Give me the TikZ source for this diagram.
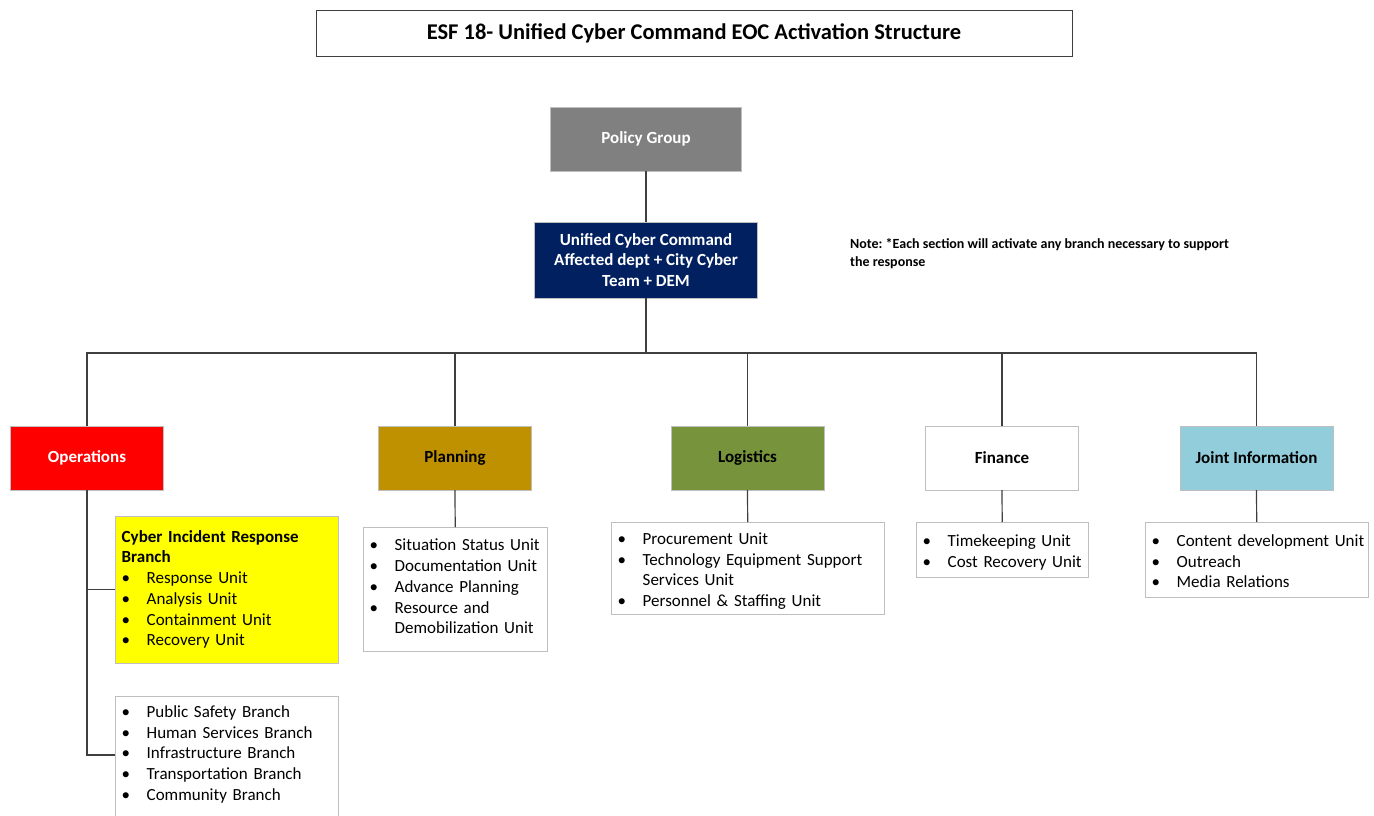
\documentclass[tikz,border=0pt]{standalone}
\usepackage{fontspec}
\setmainfont{Carlito}
\frenchspacing
\definecolor{opsred}{HTML}{FF0000}
\definecolor{planbrown}{HTML}{BF9000}
\definecolor{loggreen}{HTML}{77933C}
\definecolor{jointblue}{HTML}{92CDDC}
\definecolor{policygray}{HTML}{808080}
\definecolor{uccnavy}{HTML}{002060}
\definecolor{edgegray}{HTML}{BFBFBF}
\definecolor{linegray}{HTML}{3F3F3F}
\definecolor{cirbyellow}{HTML}{FFFF00}
% one bullet line, and a bullet line that runs on to a second line
\newcommand\itm[1]{\par\noindent\makebox[25pt][l]{\textbullet}\mbox{\strut#1}}
\newcommand\itmm[2]{\itm{#1}\par\noindent\hspace*{25pt}\mbox{\strut#2}}
\begin{document}
\begin{tikzpicture}[x=1pt,y=-1pt,
    sectbox/.style={draw=edgegray,minimum width=153pt,minimum height=64pt,inner sep=0pt,
      font=\fontsize{17}{20.7}\selectfont\bfseries},
    unitbox/.style={draw=edgegray,anchor=north west,align=left,inner xsep=6.5pt,inner ysep=3pt,
      font=\fontsize{17}{20.7}\selectfont},
    link/.style={draw=linegray,line width=1.2pt}]
  \useasboundingbox (0,0) rectangle (1374,815);

  % title and top of the command
  \node[draw=linegray,minimum width=756pt,minimum height=46pt,
    font=\fontsize{22.5}{27}\selectfont\bfseries] (title) at (694,33)
    {ESF 18- Unified Cyber Command EOC Activation Structure};
  \node[sectbox,fill=policygray,text=white,minimum width=191pt] (policy) at (646,139) {Policy Group};
  \node[sectbox,fill=uccnavy,text=white,minimum width=223pt,minimum height=76pt,align=center]
    (ucc) at (646,260) {Unified Cyber Command\\Affected dept + City Cyber\\Team + DEM};
  \node[anchor=north west,inner sep=0pt,align=left,font=\fontsize{14}{18}\selectfont\bfseries]
    (note) at (850,238) {Note: *Each section will activate any branch necessary to support\\the response};

  % sections
  \node[sectbox,fill=opsred,text=white] (ops) at (87,458) {Operations};
  \node[sectbox,fill=planbrown] (plan) at (455,458) {Planning};
  \node[sectbox,fill=loggreen] (log) at (747.5,458) {Logistics};
  \node[sectbox,fill=white] (fin) at (1002,458) {Finance};
  \node[sectbox,fill=jointblue] (joint) at (1256.5,458) {Joint Information};

  % units under each section
  \node[unitbox,fill=cirbyellow,text width=210pt,inner ysep=11.5pt] (cirb) at (115,516)
    {\noindent\textbf{\strut Cyber Incident Response}\par\noindent\textbf{\strut Branch}
     \itm{Response Unit}\itm{Analysis Unit}\itm{Containment Unit}\itm{Recovery Unit}};
  \node[unitbox,text width=210pt,inner ysep=0.5pt] (ofb) at (115,696)
    {\itm{Public Safety Branch}\itm{Human Services Branch}\itm{Infrastructure Branch}
     \itm{Transportation Branch}\itm{Community Branch}\par\strut\par\strut};
  \node[unitbox,text width=171pt] (plansub) at (363,527)
    {\itm{Situation Status Unit}\itm{Documentation Unit}\itm{Advance Planning}
     \itmm{Resource and}{Demobilization Unit}\rule[-14.7pt]{0pt}{14.7pt}};
  \node[unitbox,text width=260pt,inner ysep=1.5pt] (logsub) at (611,522)
    {\itm{Procurement Unit}\itmm{Technology Equipment Support}{Services Unit}
     \itm{Personnel \& Staffing Unit}};
  \node[unitbox,text width=159pt,inner ysep=3.5pt] (finsub) at (916,522)
    {\itm{Timekeeping Unit}\itm{Cost Recovery Unit}};
  \node[unitbox,text width=210pt,inner ysep=3.5pt] (jointsub) at (1145,522)
    {\itm{Content development Unit}\itm{Outreach}\itm{Media Relations}};

  % connectors
  \coordinate (bus) at (646,353);
  \coordinate (ofbin) at (115,755);
  \draw[link] (policy.south) -- (ucc.north);
  \draw[link] (ucc.south) -- (bus);
  \foreach \s in {ops,plan,log,fin,joint} {\draw[link] (bus) -| (\s.north);}
  \draw[link] (ops.south) |- (cirb.west);
  \draw[link] (ops.south) |- (ofbin);
  \foreach \s in {plan,log,fin,joint} {\draw[link] (\s.south) -- (\s sub.north);}
\end{tikzpicture}
\end{document}
